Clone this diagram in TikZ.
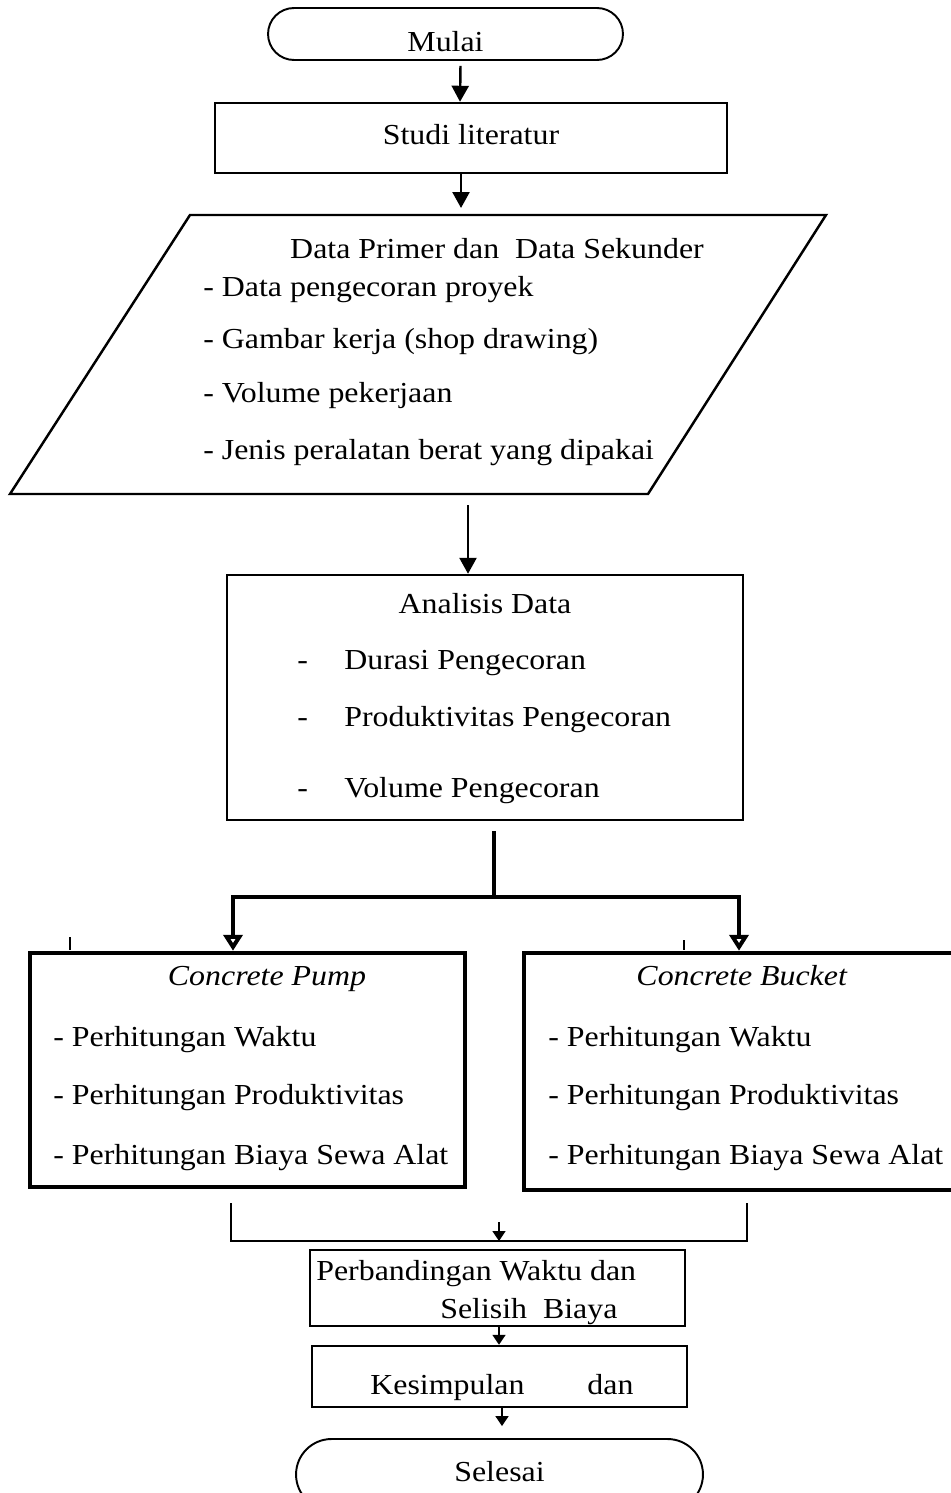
\documentclass[tikz,border=0pt]{standalone}
\usepackage{fontspec}
\setmainfont{Liberation Serif}[FakeStretch=1.1]
\usepackage{tikz}
\usetikzlibrary{arrows.meta,positioning}

\tikzset{
  flowtext/.style={font=\fontsize{16.5}{19}\selectfont, text height=11.5pt, text depth=4.1pt, inner sep=0pt},
  terminal/.style={flowtext, draw, line width=1.1pt},
  procbox/.style={flowtext, draw, line width=1.4pt},
  toolbox/.style={flowtext, draw, line width=2.6pt},
  item/.style={flowtext, anchor=west},
  flowarrow/.style={-{Triangle[length=0.32cm,width=0.34cm]}, line width=1.4pt},
  smallarrow/.style={-{Triangle[length=0.2cm,width=0.26cm]}, line width=1pt},
  brancharrow/.style={-{Triangle[open,length=0.32cm,width=0.38cm]}, line width=2.4pt, line join=miter},
  joinline/.style={line width=0.8pt},
}
\newcommand{\dashitem}[1]{\makebox[0.94cm][l]{-}#1}

\begin{document}
\begin{tikzpicture}[x=0.02cm, y=-0.02cm]
  \useasboundingbox (0,0) rectangle (950,1493);

  % Start and literature study
  \node[terminal, rounded corners=0.52cm, text height=20pt, text depth=0pt,
        minimum width=7.1cm, minimum height=1.04cm] (mulai) at (445.5,34) {Mulai};
  \node[procbox, minimum width=10.24cm, minimum height=1.4cm] (studi) at (471,138) {Studi literatur};
  \draw[flowarrow] ([xshift=0.3cm,yshift=-0.1cm]mulai.south) -- ([xshift=-0.22cm]studi.north);

  % Input data
  \coordinate (pTL) at (190,215);
  \coordinate (pTR) at (826,215);
  \coordinate (pBR) at (648,494);
  \coordinate (pBL) at (10,494);
  \draw[line width=1.4pt] (pBL) -- (pTL) -- (pTR) -- (pBR) -- cycle;
  \draw[flowarrow] ([xshift=-0.2cm]studi.south) -- ([xshift=-0.2cm,yshift=0.14cm]studi.south |- pTL);
  \node[flowtext] (datajudul) at (497,252) {Data Primer dan\ \ Data Sekunder};
  \node[item] (data1) at (203,290) {- Data pengecoran proyek};
  \node[item] (data2) at (203,342) {- Gambar kerja (shop drawing)};
  \node[item] (data3) at (203,396) {- Volume pekerjaan};
  \node[item] (data4) at (203,453) {- Jenis peralatan berat yang dipakai};

  % Analysis
  \node[procbox, minimum width=10.32cm, minimum height=4.9cm] (analisis) at (485,697.5) {};
  \coordinate (pout) at (468,505);
  \draw[flowarrow] (pout) -- (pout |- analisis.north);
  \node[flowtext] (anjudul) at (485,607) {Analisis Data};
  \node[item] (an1) at (297,663) {\dashitem{Durasi Pengecoran}};
  \node[item] (an2) at (297,720) {\dashitem{Produktivitas Pengecoran}};
  \node[item] (an3) at (297,791) {\dashitem{Volume Pengecoran}};

  % Two methods
  \node[toolbox, minimum width=8.7cm, minimum height=4.68cm] (pump) at (247.5,1070) {};
  \node[toolbox, minimum width=8.76cm, minimum height=4.74cm] (bucket) at (743,1071.5) {};
  \coordinate (brtop) at (494,831);
  \coordinate (brmid) at (494,897);
  \draw[line width=2.4pt] (brtop) -- (brmid);
  \draw[brancharrow] (brmid) -| ([xshift=-0.29cm]pump.north);
  \draw[brancharrow] (brmid) -| ([xshift=-0.08cm]bucket.north);
  \draw[joinline] (70,937) -- (70,950);
  \draw[joinline] (684,940) -- (684,950);

  \node[flowtext] (pumpjudul) at (267,979) {\textit{Concrete Pump}};
  \node[item] (pump1) at (53,1040) {- Perhitungan Waktu};
  \node[item] (pump2) at (53,1098) {- Perhitungan Produktivitas};
  \node[item] (pump3) at (53,1158) {- Perhitungan Biaya Sewa Alat};

  \node[flowtext] (bucketjudul) at (742,979) {\textit{Concrete Bucket}};
  \node[item] (bucket1) at (548,1040) {- Perhitungan Waktu};
  \node[item] (bucket2) at (548,1098) {- Perhitungan Produktivitas};
  \node[item] (bucket3) at (548,1158) {- Perhitungan Biaya Sewa Alat};

  % Comparison, conclusion, end
  \coordinate (jl) at (231,1203);
  \coordinate (jr) at (747,1203);
  \coordinate (jmid) at (499,1241);
  \draw[joinline] (jl) |- (jmid) -| (jr);
  \draw[smallarrow] ([yshift=0.38cm]jmid) -- (jmid);

  \node[procbox, minimum width=7.5cm, minimum height=1.52cm] (banding) at (497.5,1288) {};
  \node[item] (banding1) at (316,1274) {Perbandingan Waktu dan};
  \node[item] (banding2) at (440,1312) {Selisih\ \ Biaya};

  \node[procbox, minimum width=7.5cm, minimum height=1.22cm] (simpul) at (499.5,1376.5) {};
  \node[item] (simpul1) at (370,1388) {Kesimpulan\hspace{1.26cm}dan};
  \draw[smallarrow] ([xshift=0.03cm]banding.south) -- ([xshift=0.03cm]banding.south |- simpul.north);

  \node[terminal, rounded corners=0.71cm, minimum width=8.14cm, minimum height=1.42cm] (selesai) at (499.5,1474.5) {Selesai};
  \draw[smallarrow] ([xshift=0.05cm]simpul.south) -- ([xshift=0.05cm,yshift=0.24cm]simpul.south |- selesai.north);
\end{tikzpicture}
\end{document}
